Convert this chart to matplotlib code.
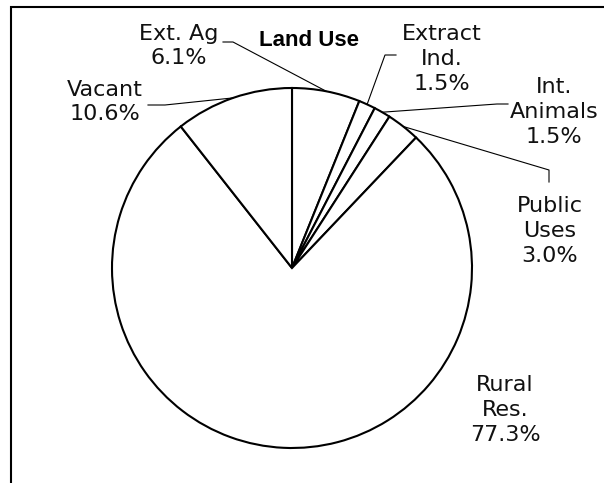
import numpy as np
import matplotlib.pyplot as plt
from matplotlib.patches import Rectangle

# data
categories = ["Ext. Ag", "Extract\nInd.", "Int.\nAnimals", "Public\nUses", "Rural\nRes.", "Vacant"]
shares = [6.1, 1.5, 1.5, 3.0, 77.3, 10.6]
title = "Land Use"

# layout, in pixels of the 604x483 picture (y measured from the top)
W, H = 604, 483
pie_center = (292, 268)
pie_radius = 180
label_pos = [(179, 46), (442, 59), (554, 112), (550, 231), (505, 410), (105, 102)]
# elbow points of the leader lines, label side first (None = no leader)
leaders = [
    [(223, 42), (233, 42)],
    [(396, 55), (385, 55)],
    [(508, 104), (497, 104)],
    [(549, 182), (549, 170)],
    None,
    [(148, 105), (165, 105)],
]


def px(x, y):
    # picture pixels -> data coords (y up)
    return x, H - y


fig = plt.figure(figsize=(W / 100, H / 100), dpi=100)
ax = fig.add_axes([0, 0, 1, 1])

wedges, _ = ax.pie(
    shares,
    startangle=90,
    counterclock=False,
    center=px(*pie_center),
    radius=pie_radius,
    colors=["white"] * len(shares),
    wedgeprops=dict(edgecolor="black", linewidth=1.5),
)

cx, cy = px(*pie_center)
for w, name, val, pos, lead in zip(wedges, categories, shares, label_pos, leaders):
    ax.text(*px(*pos), f"{name}\n{val:.1f}%", ha="center", va="center",
            fontsize=16, family="DejaVu Sans", color="#111111", linespacing=1.3)
    if lead is None:
        continue
    mid = np.deg2rad((w.theta1 + w.theta2) / 2)
    edge = (cx + pie_radius * np.cos(mid), cy + pie_radius * np.sin(mid))
    pts = [px(*p) for p in lead] + [edge]
    xs, ys = zip(*pts)
    ax.plot(xs, ys, color="black", lw=0.8)

ax.text(*px(309, 40), title, ha="center", va="center", fontsize=16,
        family="Liberation Sans", weight="bold", color="black")

# chart area border (only the top and left edges are inside the picture)
ax.add_patch(Rectangle(px(11, 7 + 700), 700, 700, fill=False, edgecolor="black", lw=1.5))

ax.set_xlim(0, W)
ax.set_ylim(0, H)
ax.set_aspect("equal")
ax.axis("off")

fig.savefig("out.png", dpi=100, facecolor="white")
